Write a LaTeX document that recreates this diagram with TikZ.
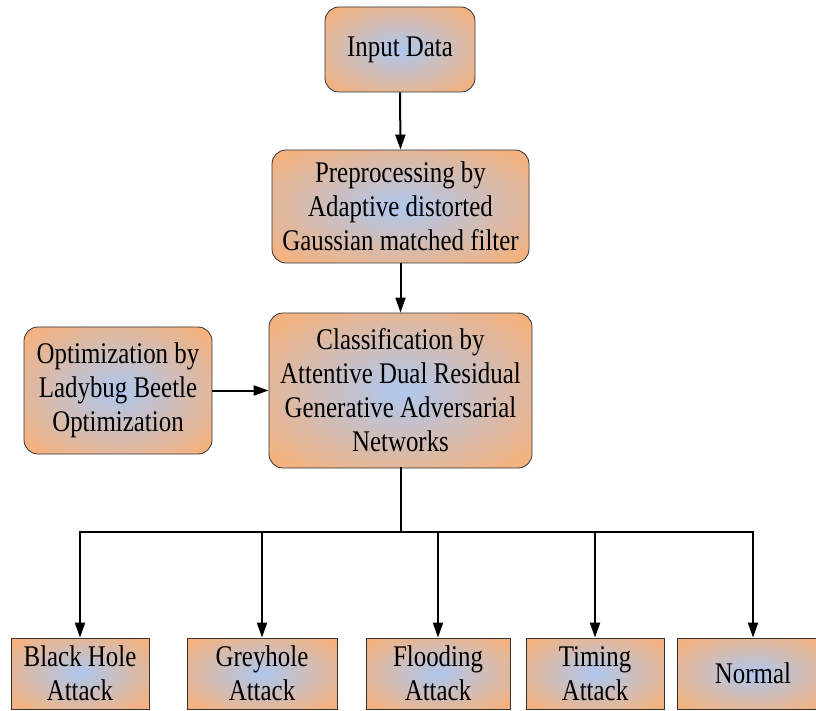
\documentclass[tikz,border=0pt]{standalone}
\usepackage{fontspec}
\setmainfont{Liberation Serif}[FakeStretch=0.83]
\usetikzlibrary{arrows.meta}
\definecolor{couter}{RGB}{243,178,128}
\definecolor{cinner}{RGB}{178,198,232}
\pgfdeclareradialshading{boxglow}{\pgfpoint{0bp}{0bp}}{color(0bp)=(cinner); color(2bp)=(cinner); color(32bp)=(couter); color(80bp)=(couter)}
\begin{document}
\begin{tikzpicture}[x=1pt,y=-1pt,
  base/.style={draw=black!80, line width=0.8pt, shading=boxglow, align=center, inner sep=0pt, font=\fontsize{30}{34}\selectfont},
  rbox/.style={base, rounded corners=14pt},
  sbox/.style={base, minimum height=71pt},
  arr/.style={line width=2pt, -{Triangle[length=15pt,width=10pt]}},
  ln/.style={line width=2pt, line cap=rect}]
\path[use as bounding box, clip] (0,0) rectangle (816,711);
\node[rbox, minimum width=150pt, minimum height=85pt] (in) at (400,49.5) {Input Data};
\node[rbox, minimum width=257pt, minimum height=113pt] (pre) at (400.5,206.5) {Preprocessing by\\Adaptive distorted\\Gaussian matched filter};
\node[rbox, minimum width=263pt, minimum height=155pt] (cls) at (400.5,390.5) {Classification by\\Attentive Dual Residual\\Generative Adversarial\\Networks};
\node[rbox, minimum width=188pt, minimum height=127pt] (opt) at (118,390.5) {Optimization by\\Ladybug Beetle\\Optimization};
\node[sbox, minimum width=138pt] (b1) at (80,673.5) {Black Hole\\Attack};
\node[sbox, minimum width=150pt] (b2) at (262,673.5) {Greyhole\\Attack};
\node[sbox, minimum width=144pt] (b3) at (438,673.5) {Flooding\\Attack};
\node[sbox, minimum width=138pt] (b4) at (595,673.5) {Timing\\Attack};
\node[sbox, minimum width=152pt] (b5) at (753,673.5) {Normal};
\draw[arr] (in.south) -- (pre.north);
\draw[arr] (pre.south) -- (cls.north);
\draw[arr] (opt.east) -- (cls.west);
\coordinate (j) at (400.5,532);
\draw[ln] (cls.south) -- (j);
\draw[ln] (b1 |- j) -- (b5 |- j);
\foreach \b in {b1,b2,b3,b4,b5}
  \draw[arr] (\b |- j) -- (\b.north);
\end{tikzpicture}
\end{document}
